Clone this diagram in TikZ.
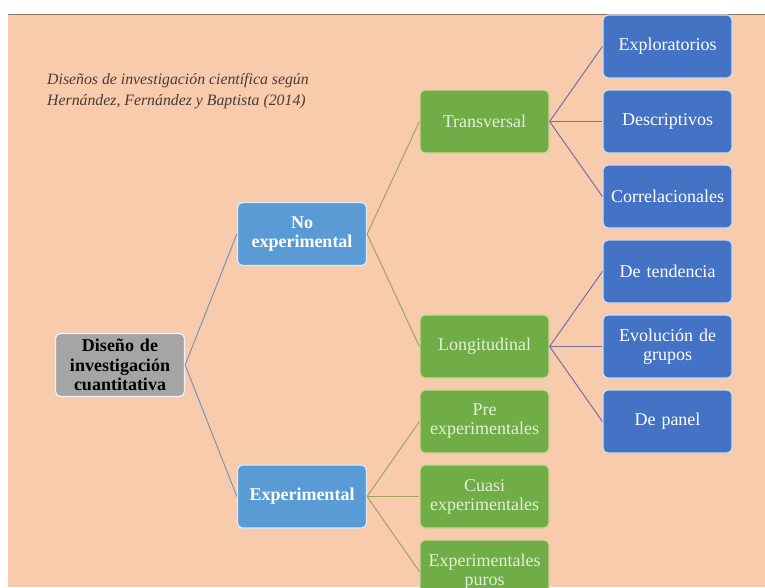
\documentclass[tikz,border=0pt]{standalone}
\usepackage{fontspec}
\setmainfont{Liberation Serif}
\definecolor{peach}{HTML}{F8CBAD}
\definecolor{topline}{HTML}{8C7264}
\definecolor{rootgray}{HTML}{A5A5A5}
\definecolor{lblue}{HTML}{5B9BD5}
\definecolor{dgreen}{HTML}{70AD47}
\definecolor{dblue}{HTML}{4472C4}
\definecolor{gtext}{HTML}{E2F0D9}
\definecolor{lineA}{HTML}{7F93B2}
\definecolor{lineB}{HTML}{A0A55C}
\definecolor{lineC}{HTML}{7470A0}
\definecolor{titlecol}{HTML}{4A3A34}
\tikzset{
  basebox/.style={rectangle, rounded corners=5pt, minimum width=129pt, minimum height=63pt,
    line width=1.2pt, align=center, inner sep=2pt, text width=125pt,
    font=\fontsize{18}{19}\selectfont},
  rootbox/.style={basebox, fill=rootgray, draw=white!85!rootgray, text=black, font=\fontsize{18}{19.5}\selectfont\bfseries},
  lbox/.style={basebox, fill=lblue, draw=white!80!lblue, text=white, font=\fontsize{18}{19}\selectfont\bfseries},
  gbox/.style={basebox, fill=dgreen, draw=white!70!yellow!60!dgreen, text=gtext},
  bbox/.style={basebox, fill=dblue, draw=white!75!dblue, text=white},
  conA/.style={draw=lineA, line width=1pt},
  conB/.style={draw=lineB, line width=1pt},
  conC/.style={draw=lineC, line width=1pt}
}
\begin{document}
\begin{tikzpicture}[x=1pt,y=-1pt]
\useasboundingbox (0,0) rectangle (765,587);
\fill[white] (0,0) rectangle (765,587);
\fill[peach] (8,14) rectangle (765,587);
\draw[topline, line width=1.5pt] (8,14.5) -- (765,14.5);

\node[anchor=north west, align=left, text=titlecol, font=\fontsize{15.8}{21}\selectfont\itshape, inner sep=0pt] (title) at (47,73)
  {Diseños de investigación científica según\\Hernández, Fernández y Baptista (2014)};

\node[rootbox] (root) at (120,365) {Diseño de\\investigación\\cuantitativa};
\node[lbox] (noexp) at (302,234) {No\\experimental};
\node[lbox] (exp) at (302,496.5) {Experimental};

\node[gbox] (trans) at (484.5,121.5) {Transversal};
\node[gbox] (longi) at (484.5,346.5) {Longitudinal};
\node[gbox] (pre) at (484.5,421.5) {Pre\\experimentales};
\node[gbox] (cuasi) at (484.5,496.5) {Cuasi\\experimentales};
\node[gbox] (puros) at (484.5,571.5) {Experimentales\\puros};

\node[bbox] (explo) at (667.5,46.5) {Exploratorios};
\node[bbox] (desc) at (667.5,121.5) {Descriptivos};
\node[bbox] (corr) at (667.5,196.5) {Correlacionales};
\node[bbox] (tend) at (667.5,271.5) {De tendencia};
\node[bbox] (evol) at (667.5,346.5) {Evolución de\\grupos};
\node[bbox] (panel) at (667.5,421.5) {De panel};

\draw[conA] (root.east) -- (noexp.west);
\draw[conA] (root.east) -- (exp.west);
\draw[conB] (noexp.east) -- (trans.west);
\draw[conB] (noexp.east) -- (longi.west);
\draw[conB] (exp.east) -- (pre.west);
\draw[conB] (exp.east) -- (cuasi.west);
\draw[conB] (exp.east) -- (puros.west);
\draw[conC] (trans.east) -- (explo.west);
\draw[conC] (trans.east) -- (desc.west);
\draw[conC] (trans.east) -- (corr.west);
\draw[conC] (longi.east) -- (tend.west);
\draw[conC] (longi.east) -- (evol.west);
\draw[conC] (longi.east) -- (panel.west);
\end{tikzpicture}
\end{document}
